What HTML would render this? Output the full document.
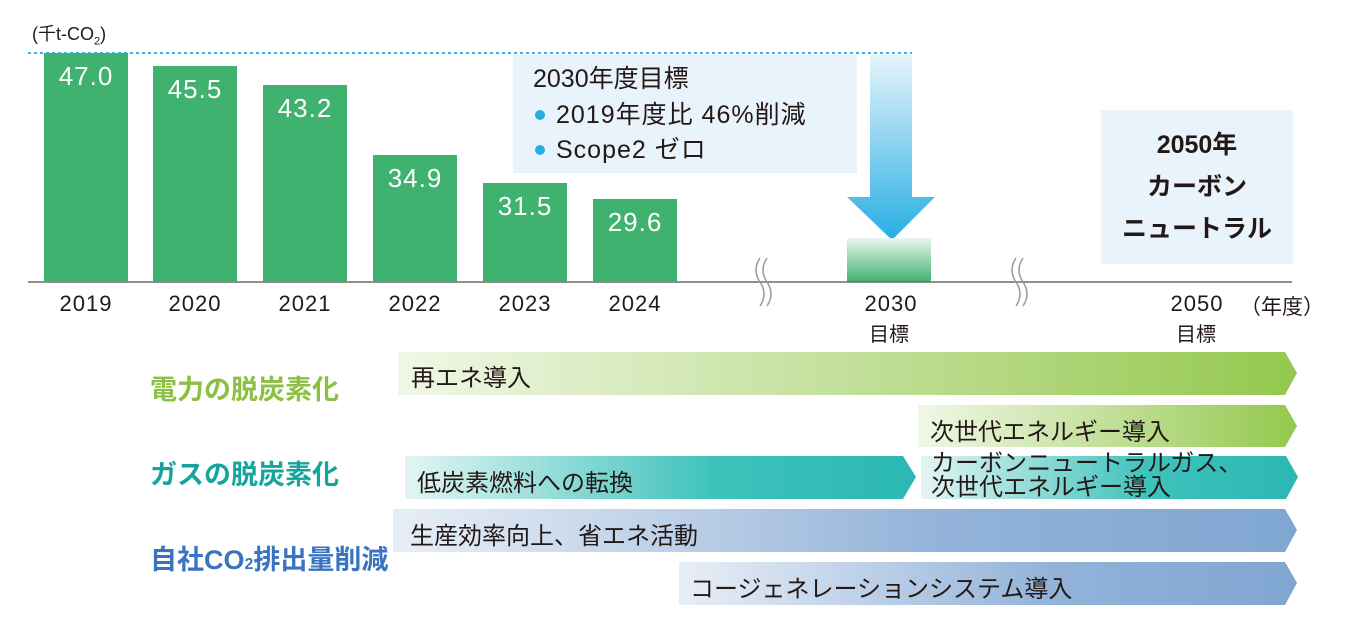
<!DOCTYPE html>
<html><head><meta charset="utf-8"><style>
html,body{margin:0;padding:0;background:#fff;}
body{width:1360px;height:628px;position:relative;overflow:hidden;font-family:"Liberation Sans","Noto Sans CJK JP",sans-serif;color:#231815;}
.a{position:absolute;white-space:nowrap;}
.bar{position:absolute;background:#3fb26f;width:84px;}
.bv{position:absolute;color:#fff;font-size:26px;width:84px;text-align:center;letter-spacing:1px;}
.yr{position:absolute;font-size:22px;width:84px;text-align:center;top:291px;letter-spacing:1px;}
.lab{position:absolute;font-size:27px;font-weight:bold;white-space:nowrap;}
.at{position:absolute;font-size:24px;white-space:nowrap;}
</style></head><body>
<div class="a" style="left:32px;top:20px;font-size:18px;">(千t-CO<sub style="font-size:11px">2</sub>)</div>
<svg width="1360" height="628" style="position:absolute;left:0;top:0">
<defs>
<linearGradient id="blu" x1="0" y1="0" x2="0" y2="1"><stop offset="0" stop-color="#e6f4fb"/><stop offset="1" stop-color="#27aee4"/></linearGradient>
<linearGradient id="grn" x1="0" y1="0" x2="0" y2="1"><stop offset="0" stop-color="#eaf6ee"/><stop offset="1" stop-color="#3fb26f"/></linearGradient>
<linearGradient id="g1" x1="0" x2="1"><stop offset="0" stop-color="#f0f7e6"/><stop offset="1" stop-color="#94c84e"/></linearGradient>
<linearGradient id="g2" x1="0" x2="1"><stop offset="0" stop-color="#e3f5f3"/><stop offset="0.6" stop-color="#3fc2bc"/><stop offset="1" stop-color="#2bb8b4"/></linearGradient>
<linearGradient id="g3" x1="0" x2="1"><stop offset="0" stop-color="#e8eef7"/><stop offset="0.6" stop-color="#93b3d9"/><stop offset="1" stop-color="#7fa6d2"/></linearGradient>
</defs>
<line x1="28" y1="53" x2="912" y2="53" stroke="#3fb0e6" stroke-width="2" stroke-dasharray="3,3"/>
<rect x="513" y="55" width="344" height="118" fill="#e8f3fb"/>
<rect x="1101" y="110" width="192" height="154" fill="#e8f3fb"/>
<path d="M870 55 H912 V197 H935 L892 240 L847 197 H870 Z" fill="url(#blu)"/>
<rect x="847" y="238" width="84" height="44" fill="url(#grn)"/>
<line x1="28" y1="282" x2="1292" y2="282" stroke="#6e6a68" stroke-width="1.5"/>
<path d="M760 258 q-8 12 0 24 q8 12 0 24 M767 258 q-8 12 0 24 q8 12 0 24" stroke="#999" stroke-width="1.5" fill="none"/>
<path d="M1016 258 q-8 12 0 24 q8 12 0 24 M1023 258 q-8 12 0 24 q8 12 0 24" stroke="#999" stroke-width="1.5" fill="none"/>
<path d="M398 352 H1285 L1297 373 L1285 395 H398 Z" fill="url(#g1)"/>
<path d="M918 405 H1285 L1297 426 L1285 447 H918 Z" fill="url(#g1)"/>
<path d="M405 456 H903 L916 477 L903 499 H405 Z" fill="url(#g2)"/>
<path d="M921 456 H1286 L1298 477 L1286 499 H921 Z" fill="url(#g2)"/>
<path d="M393 509 H1285 L1297 530 L1285 552 H393 Z" fill="url(#g3)"/>
<path d="M679 562 H1285 L1297 583 L1285 605 H679 Z" fill="url(#g3)"/>
<circle cx="540" cy="115" r="5" fill="#27aee4"/>
<circle cx="540" cy="150" r="5" fill="#27aee4"/>
</svg>
<div class="bar" style="left:44px;top:53px;height:229px"></div><div class="bv" style="left:44px;top:61px">47.0</div>
<div class="bar" style="left:153px;top:66px;height:216px"></div><div class="bv" style="left:153px;top:74px">45.5</div>
<div class="bar" style="left:263px;top:85px;height:197px"></div><div class="bv" style="left:263px;top:93px">43.2</div>
<div class="bar" style="left:373px;top:155px;height:127px"></div><div class="bv" style="left:373px;top:163px">34.9</div>
<div class="bar" style="left:483px;top:183px;height:99px"></div><div class="bv" style="left:483px;top:191px">31.5</div>
<div class="bar" style="left:593px;top:199px;height:83px"></div><div class="bv" style="left:593px;top:207px">29.6</div>
<div class="yr" style="left:44px">2019</div><div class="yr" style="left:153px">2020</div><div class="yr" style="left:263px">2021</div>
<div class="yr" style="left:373px">2022</div><div class="yr" style="left:483px">2023</div><div class="yr" style="left:593px">2024</div>
<div class="yr" style="left:849px">2030</div><div class="a" style="left:869px;top:318px;font-size:20px">目標</div>
<div class="yr" style="left:1155px">2050</div><div class="a" style="left:1176px;top:318px;font-size:20px">目標</div>
<div class="a" style="left:1240px;top:291px;font-size:21px">（年度）</div>
<div class="a" style="left:533px;top:64px;font-size:25px;line-height:30px">2030年度目標</div>
<div class="a" style="left:556px;top:100px;font-size:25px;line-height:30px;letter-spacing:1px">2019年度比 46%削減</div>
<div class="a" style="left:556px;top:135px;font-size:25px;line-height:30px;letter-spacing:1px">Scope2 ゼロ</div>
<div class="a" style="left:1101px;width:192px;text-align:center;top:124px;font-size:25px;font-weight:bold;line-height:42px">2050年<br>カーボン<br>ニュートラル</div>
<div class="lab" style="left:150px;top:368px;color:#8cc043">電力の脱炭素化</div>
<div class="lab" style="left:150px;top:453px;color:#16a59c">ガスの脱炭素化</div>
<div class="lab" style="left:150px;top:538px;color:#3a74c0">自社CO<span style="font-size:16px">2</span>排出量削減</div>
<div class="at" style="left:411px;top:358px">再エネ導入</div>
<div class="at" style="left:930px;top:412px">次世代エネルギー導入</div>
<div class="at" style="left:417px;top:463px">低炭素燃料への転換</div>
<div class="at" style="left:931px;top:452px;line-height:24px">カーボンニュートラルガス、<br>次世代エネルギー導入</div>
<div class="at" style="left:410px;top:516px">生産効率向上、省エネ活動</div>
<div class="at" style="left:690px;top:569px">コージェネレーションシステム導入</div>
</body></html>
